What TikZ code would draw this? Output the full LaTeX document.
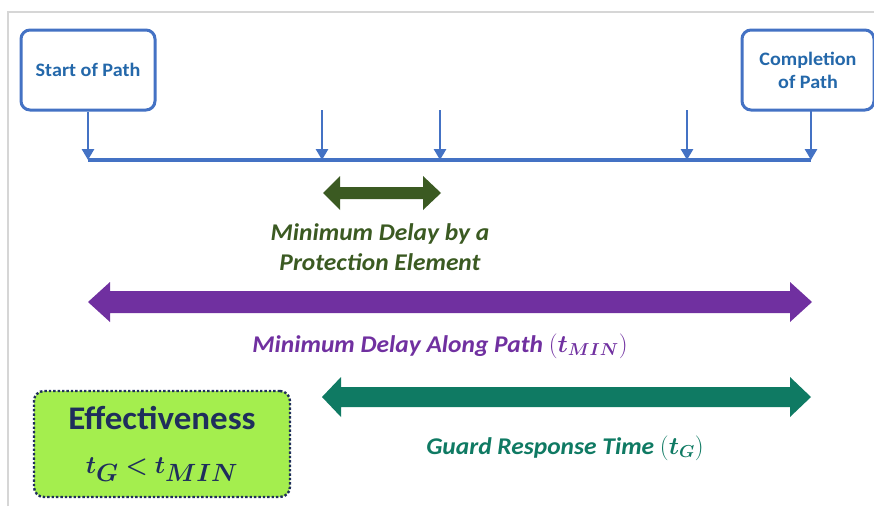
\documentclass[tikz,border=0pt]{standalone}
\usepackage{fontspec}
\usepackage{amsmath,bm}
\setmainfont{Carlito}[FakeStretch=1.06]
\usetikzlibrary{arrows.meta}
\definecolor{frameg}{HTML}{D6D6D6}
\definecolor{pblue}{HTML}{4472C4}
\definecolor{tblue}{HTML}{2468AA}
\definecolor{dgreen}{HTML}{3B5A22}
\definecolor{purp}{HTML}{7030A0}
\definecolor{teal2}{HTML}{0F7A63}
\definecolor{lgreen}{HTML}{A4EE4E}
\definecolor{navy}{HTML}{1F2E5C}
\tikzset{
  pathbox/.style={draw=pblue, line width=3pt, rounded corners=9pt, fill=white, align=center,
     font=\fontsize{19}{23}\selectfont\bfseries, text=tblue},
  drop/.style={draw=pblue, line width=2.8pt, -{Triangle[length=11pt,width=12pt]}},
  lbl/.style={font=\fontsize{24}{30}\selectfont\bfseries\itshape, align=center},
}
\begin{document}
\begin{tikzpicture}[x=1pt,y=-1pt]
\useasboundingbox (0,0) rectangle (874,506);
% frame
\draw[frameg, line width=2pt] (8,506) -- (8,12) -- (874,12);
% boxes
\node[pathbox, minimum width=134pt, minimum height=80pt] (start) at (88,70) {Start of Path};
\node[pathbox, minimum width=132pt, minimum height=80pt] (comp) at (808,70) {Completion\\of Path};
% timeline
\coordinate (l0) at (88,160);
\coordinate (l1) at (322,160);
\coordinate (l2) at (440,160);
\coordinate (l3) at (687,160);
\coordinate (l4) at (811,160);
\coordinate (t1) at (322,110);
\coordinate (t2) at (440,110);
\coordinate (t3) at (687,110);
\coordinate (t4) at (811,110);
\draw[pblue, line width=3.6pt] (l0) -- (l4);
\draw[drop] (start.south) -- (l0);
\draw[drop] (t1) -- (l1);
\draw[drop] (t2) -- (l2);
\draw[drop] (t3) -- (l3);
\draw[drop] (t4) -- (l4);
% green double arrow
\fill[dgreen] (323,193) -- (340,176) -- (340,187) -- (423,187) -- (423,176) -- (441,193)
  -- (423,210) -- (423,199) -- (340,199) -- (340,210) -- cycle;
\node[lbl, text=dgreen] (ldel) at (380,247) {Minimum Delay by a\\Protection Element};
% purple double arrow
\fill[purp] (88,302) -- (110,282) -- (110,291) -- (790,291) -- (790,282) -- (812,302)
  -- (790,322) -- (790,313) -- (110,313) -- (110,322) -- cycle;
\node[lbl, text=purp] (lmin) at (440,346) {Minimum Delay Along Path $(\bm{t_{MIN}})$};
% teal double arrow
\fill[teal2] (322,397) -- (341,377) -- (341,387) -- (790,387) -- (790,377) -- (811,397)
  -- (790,417) -- (790,407) -- (341,407) -- (341,417) -- cycle;
\node[lbl, text=teal2] (lg) at (565,448) {Guard Response Time $(\bm{t_{G}})$};
% effectiveness box
\node[draw=navy, line width=2.4pt, dotted, rounded corners=10pt, fill=lgreen,
  minimum width=256pt, minimum height=106pt, align=center, text=navy,
  font=\fontsize{33}{44}\selectfont\bfseries] (eff) at (162,444)
  {Effectiveness\\$\bm{t_G < t_{MIN}}$};
\end{tikzpicture}
\end{document}
